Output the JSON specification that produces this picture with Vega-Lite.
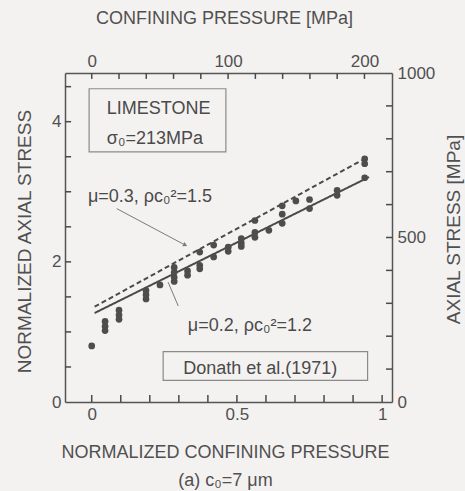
{
  "$schema": "https://vega.github.io/schema/vega-lite/v6.json",
  "width": 327,
  "height": 329,
  "autosize": {"type": "none"},
  "padding": {"left": 65, "top": 73, "right": 73, "bottom": 89},
  "background": "#f4f2f1",
  "config": {
    "view": {"stroke": null},
    "font": "Liberation Sans",
    "axis": {
      "grid": false,
      "domainColor": "#555555",
      "domainWidth": 1.5,
      "labelColor": "#505050",
      "labelFont": "Liberation Sans",
      "labelFontSize": 17,
      "labelFlush": false,
      "titleFont": "Liberation Sans",
      "titleFontSize": 18,
      "titleFontWeight": "normal",
      "titleColor": "#505050"
    }
  },
  "datasets": {
    "pts": [
      {"x": 0.0, "y": 0.80},
      {"x": 0.046, "y": 1.15}, {"x": 0.046, "y": 1.08}, {"x": 0.046, "y": 1.02},
      {"x": 0.094, "y": 1.31}, {"x": 0.094, "y": 1.24}, {"x": 0.094, "y": 1.18},
      {"x": 0.187, "y": 1.59}, {"x": 0.187, "y": 1.53}, {"x": 0.187, "y": 1.47},
      {"x": 0.235, "y": 1.67},
      {"x": 0.284, "y": 1.92}, {"x": 0.284, "y": 1.85}, {"x": 0.284, "y": 1.78}, {"x": 0.284, "y": 1.72},
      {"x": 0.33, "y": 1.87}, {"x": 0.33, "y": 1.81},
      {"x": 0.372, "y": 2.14}, {"x": 0.372, "y": 1.95}, {"x": 0.372, "y": 1.90},
      {"x": 0.42, "y": 2.24}, {"x": 0.42, "y": 2.07},
      {"x": 0.47, "y": 2.21}, {"x": 0.47, "y": 2.15},
      {"x": 0.515, "y": 2.33}, {"x": 0.515, "y": 2.27}, {"x": 0.515, "y": 2.22},
      {"x": 0.562, "y": 2.59}, {"x": 0.562, "y": 2.42}, {"x": 0.562, "y": 2.35},
      {"x": 0.61, "y": 2.45},
      {"x": 0.656, "y": 2.80}, {"x": 0.656, "y": 2.68}, {"x": 0.656, "y": 2.55},
      {"x": 0.703, "y": 2.87},
      {"x": 0.75, "y": 2.89}, {"x": 0.75, "y": 2.76},
      {"x": 0.845, "y": 3.02}, {"x": 0.845, "y": 2.95},
      {"x": 0.94, "y": 3.47}, {"x": 0.94, "y": 3.40}, {"x": 0.94, "y": 3.20}
    ],
    "model": [
      {"s": "mu02", "x": 0.01, "y": 1.27}, {"s": "mu02", "x": 0.955, "y": 3.21},
      {"s": "mu03", "x": 0.01, "y": 1.36}, {"s": "mu03", "x": 0.93, "y": 3.45}
    ],
    "pointers": [
      {"id": "p1", "x": 0.086, "y": 2.76}, {"id": "p1", "x": 0.326, "y": 2.23},
      {"id": "p2", "x": 0.298, "y": 1.37}, {"id": "p2", "x": 0.263, "y": 1.71}
    ],
    "arrowheads": [{"x": 0.322, "y": 2.24}],
    "boxes": [
      {"x": -0.009, "x2": 0.462, "y": 3.57, "y2": 4.47},
      {"x": 0.246, "x2": 0.95, "y": 0.31, "y2": 0.72}
    ],
    "labels": [
      {"x": 0.052, "y": 4.18, "t": "LIMESTONE"},
      {"x": 0.052, "y": 3.76, "t": "σ₀=213MPa"},
      {"x": -0.013, "y": 2.93, "t": "μ=0.3,  ρc₀²=1.5"},
      {"x": 0.331, "y": 1.09, "t": "μ=0.2,  ρc₀²=1.2"},
      {"x": 0.315, "y": 0.47, "t": "Donath et al.(1971)"}
    ],
    "xticks": [
      {"x": 0, "y": 0, "y2": 0.1}, {"x": 0.1, "y": 0, "y2": 0.1}, {"x": 0.2, "y": 0, "y2": 0.1}, {"x": 0.3, "y": 0, "y2": 0.1},
      {"x": 0.4, "y": 0, "y2": 0.1}, {"x": 0.5, "y": 0, "y2": 0.1}, {"x": 0.6, "y": 0, "y2": 0.1}, {"x": 0.7, "y": 0, "y2": 0.1},
      {"x": 0.8, "y": 0, "y2": 0.1}, {"x": 0.9, "y": 0, "y2": 0.1}, {"x": 1.0, "y": 0, "y2": 0.1}
    ],
    "yticks": [
      {"y": 0.5, "x": -0.092, "x2": -0.071}, {"y": 1, "x": -0.092, "x2": -0.071}, {"y": 1.5, "x": -0.092, "x2": -0.071},
      {"y": 2, "x": -0.092, "x2": -0.071}, {"y": 2.5, "x": -0.092, "x2": -0.071}, {"y": 3, "x": -0.092, "x2": -0.071},
      {"y": 3.5, "x": -0.092, "x2": -0.071}, {"y": 4, "x": -0.092, "x2": -0.071}, {"y": 4.5, "x": -0.092, "x2": -0.071}
    ],
    "pticks": [
      {"x": 0, "y": 1000, "y2": 982}, {"x": 20, "y": 1000, "y2": 982}, {"x": 40, "y": 1000, "y2": 982}, {"x": 60, "y": 1000, "y2": 982},
      {"x": 80, "y": 1000, "y2": 982}, {"x": 100, "y": 1000, "y2": 982}, {"x": 120, "y": 1000, "y2": 982}, {"x": 140, "y": 1000, "y2": 982},
      {"x": 160, "y": 1000, "y2": 982}, {"x": 180, "y": 1000, "y2": 982}, {"x": 200, "y": 1000, "y2": 982}
    ],
    "sticks": [
      {"y": 100, "x": 220.2, "x2": 215.8}, {"y": 200, "x": 220.2, "x2": 215.8}, {"y": 300, "x": 220.2, "x2": 215.8},
      {"y": 400, "x": 220.2, "x2": 215.8}, {"y": 500, "x": 220.2, "x2": 215.8}, {"y": 600, "x": 220.2, "x2": 215.8},
      {"y": 700, "x": 220.2, "x2": 215.8}, {"y": 800, "x": 220.2, "x2": 215.8}, {"y": 900, "x": 220.2, "x2": 215.8}
    ],
    "anchor": [{"x": 0, "y": 0}]
  },
  "layer": [
    {
      "layer": [
        {
          "data": {"name": "boxes"},
          "mark": {"type": "rect", "fillOpacity": 0, "stroke": "#8a8a8a", "strokeWidth": 1.2},
          "encoding": {
            "x": {
              "field": "x", "type": "quantitative",
              "scale": {"domain": [-0.092, 1.034], "nice": false, "zero": false},
              "axis": {
                "orient": "bottom",
                "values": [0, 0.5, 1],
                "format": "~g",
                "ticks": false,
                "labelOverlap": false,
                "labelPadding": 4,
                "title": ["NORMALIZED CONFINING PRESSURE", "(a) c₀=7 μm"],
                "titleLineHeight": 28,
                "titleX": 160,
                "titleY": 50,
                "titleAlign": "center",
                "titleBaseline": "middle",
                "titleFontSize": 18
              }
            },
            "x2": {"field": "x2"},
            "y": {
              "field": "y", "type": "quantitative",
              "scale": {"domain": [0, 4.695], "nice": false, "zero": false},
              "axis": {
                "orient": "left",
                "values": [0, 2, 4],
                "format": "d",
                "ticks": false,
                "labelOverlap": false,
                "labelPadding": 4,
                "title": "NORMALIZED AXIAL STRESS",
                "titleAngle": -90,
                "titleX": -41,
                "titleY": 168,
                "titleAlign": "center",
                "titleBaseline": "middle",
                "titleFontSize": 19
              }
            },
            "y2": {"field": "y2"}
          }
        },
        {
          "data": {"name": "xticks"},
          "mark": {"type": "rule", "color": "#4a4a4a", "strokeWidth": 1.5},
          "encoding": {
            "x": {"field": "x", "type": "quantitative"},
            "y": {"field": "y", "type": "quantitative"},
            "y2": {"field": "y2"}
          }
        },
        {
          "data": {"name": "yticks"},
          "mark": {"type": "rule", "color": "#4a4a4a", "strokeWidth": 1.5},
          "encoding": {
            "x": {"field": "x", "type": "quantitative"},
            "x2": {"field": "x2"},
            "y": {"field": "y", "type": "quantitative"}
          }
        },
        {
          "data": {"name": "model"},
          "mark": {"type": "line", "color": "#4a4a4a", "strokeWidth": 2},
          "encoding": {
            "x": {"field": "x", "type": "quantitative"},
            "y": {"field": "y", "type": "quantitative"},
            "detail": {"field": "s"},
            "strokeDash": {"field": "s", "type": "nominal", "scale": {"domain": ["mu02", "mu03"], "range": [[1, 0], [5, 3]]}, "legend": null}
          }
        },
        {
          "data": {"name": "pointers"},
          "mark": {"type": "line", "color": "#7a7a7a", "strokeWidth": 1},
          "encoding": {
            "x": {"field": "x", "type": "quantitative"},
            "y": {"field": "y", "type": "quantitative"},
            "detail": {"field": "id"}
          }
        },
        {
          "data": {"name": "arrowheads"},
          "mark": {"type": "point", "shape": "triangle-right", "angle": 28, "size": 22, "filled": true, "color": "#7a7a7a", "opacity": 1},
          "encoding": {
            "x": {"field": "x", "type": "quantitative"},
            "y": {"field": "y", "type": "quantitative"}
          }
        },
        {
          "data": {"name": "pts"},
          "mark": {"type": "circle", "color": "#4d4d4d", "size": 45, "opacity": 1},
          "encoding": {
            "x": {"field": "x", "type": "quantitative"},
            "y": {"field": "y", "type": "quantitative"}
          }
        },
        {
          "data": {"name": "labels"},
          "mark": {"type": "text", "align": "left", "baseline": "middle", "fontSize": 18, "color": "#4a4a4a", "font": "Liberation Sans"},
          "encoding": {
            "x": {"field": "x", "type": "quantitative"},
            "y": {"field": "y", "type": "quantitative"},
            "text": {"field": "t"}
          }
        }
      ]
    },
    {
      "layer": [
        {
          "data": {"name": "anchor"},
          "mark": {"type": "point", "opacity": 0},
          "encoding": {
            "x": {
              "field": "x", "type": "quantitative",
              "scale": {"domain": [-19.6, 220.2], "nice": false, "zero": false},
              "axis": {
                "orient": "top",
                "values": [0, 100, 200],
                "format": "d",
                "ticks": false,
                "labelOverlap": false,
                "labelPadding": 3,
                "title": "CONFINING PRESSURE  [MPa]",
                "titleX": 159,
                "titleY": -55,
                "titleAlign": "center",
                "titleBaseline": "middle"
              }
            },
            "y": {
              "field": "y", "type": "quantitative",
              "scale": {"domain": [0, 1000], "nice": false, "zero": false},
              "axis": {
                "orient": "right",
                "values": [0, 500, 1000],
                "format": "d",
                "ticks": false,
                "labelOverlap": false,
                "labelPadding": 5,
                "title": "AXIAL STRESS  [MPa]",
                "titleAngle": -90,
                "titleX": 61,
                "titleY": 156,
                "titleAlign": "center",
                "titleBaseline": "middle",
                "titleFontSize": 19
              }
            }
          }
        },
        {
          "data": {"name": "pticks"},
          "mark": {"type": "rule", "color": "#4a4a4a", "strokeWidth": 1.5},
          "encoding": {
            "x": {"field": "x", "type": "quantitative"},
            "y": {"field": "y", "type": "quantitative"},
            "y2": {"field": "y2"}
          }
        },
        {
          "data": {"name": "sticks"},
          "mark": {"type": "rule", "color": "#4a4a4a", "strokeWidth": 1.5},
          "encoding": {
            "x": {"field": "x", "type": "quantitative"},
            "x2": {"field": "x2"},
            "y": {"field": "y", "type": "quantitative"}
          }
        }
      ]
    }
  ],
  "resolve": {"scale": {"x": "independent", "y": "independent"}}
}
